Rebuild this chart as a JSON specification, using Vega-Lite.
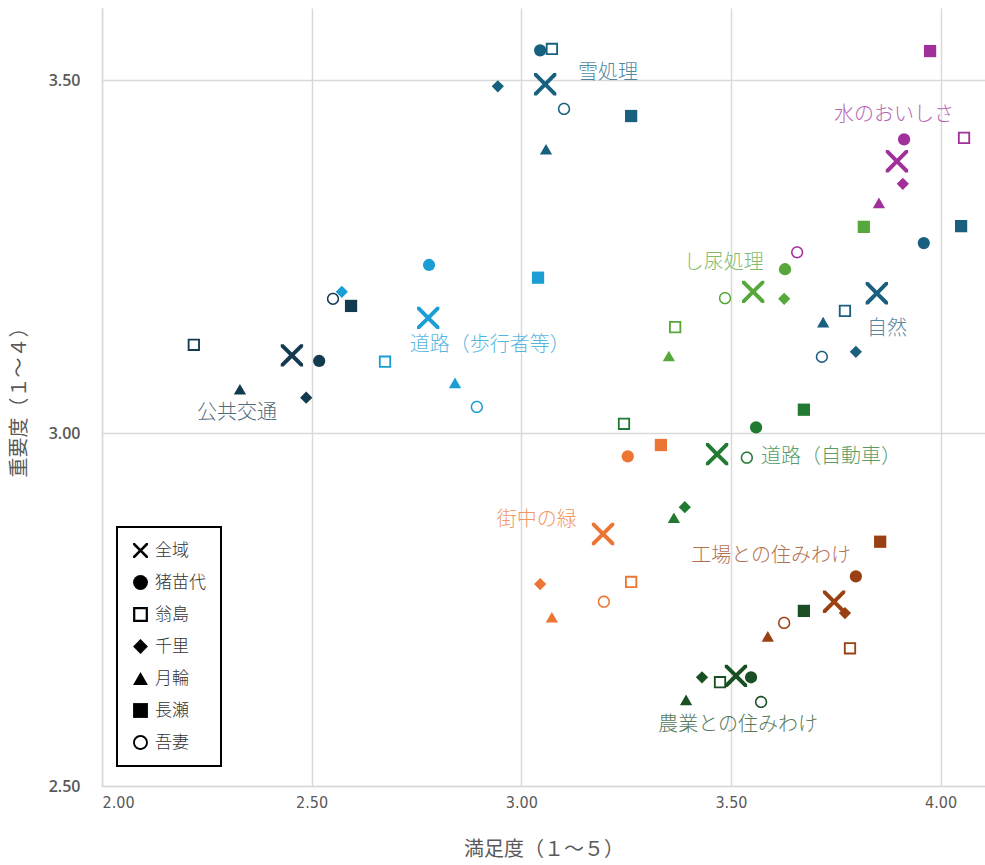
{
  "$schema": "https://vega.github.io/schema/vega-lite/v6.json",
  "width": 883,
  "height": 778,
  "autosize": {"type": "none"},
  "padding": {"left": 102, "top": 8, "right": 0, "bottom": 79},
  "background": "white",
  "config": {
    "view": {"stroke": null},
    "legend": {
      "orient": "none",
      "legendX": 15,
      "legendY": 519,
      "strokeColor": "black",
      "strokeWidth": 2,
      "fillColor": "white",
      "padding": 15,
      "labelFont": "Noto Sans CJK JP",
      "labelFontSize": 17,
      "labelFontWeight": 300,
      "labelColor": "#333333",
      "rowPadding": 14,
      "symbolSize": 220,
      "labelOffset": 6
    }
  },
  "datasets": {
    "pts": [
      {"item": "雪処理", "area": "全域", "x": 3.057, "y": 3.494},
      {"item": "雪処理", "area": "猪苗代", "x": 3.045, "y": 3.542},
      {"item": "雪処理", "area": "翁島", "x": 3.073, "y": 3.544},
      {"item": "雪処理", "area": "千里", "x": 2.944, "y": 3.491},
      {"item": "雪処理", "area": "月輪", "x": 3.059, "y": 3.402},
      {"item": "雪処理", "area": "長瀬", "x": 3.262, "y": 3.449},
      {"item": "雪処理", "area": "吾妻", "x": 3.102, "y": 3.459},
      {"item": "水のおいしさ", "area": "全域", "x": 3.896, "y": 3.385},
      {"item": "水のおいしさ", "area": "猪苗代", "x": 3.913, "y": 3.416},
      {"item": "水のおいしさ", "area": "翁島", "x": 4.056, "y": 3.418},
      {"item": "水のおいしさ", "area": "千里", "x": 3.91, "y": 3.353},
      {"item": "水のおいしさ", "area": "月輪", "x": 3.853, "y": 3.326},
      {"item": "水のおいしさ", "area": "長瀬", "x": 3.975, "y": 3.541},
      {"item": "水のおいしさ", "area": "吾妻", "x": 3.658, "y": 3.256},
      {"item": "し尿処理", "area": "全域", "x": 3.553, "y": 3.2},
      {"item": "し尿処理", "area": "猪苗代", "x": 3.629, "y": 3.232},
      {"item": "し尿処理", "area": "翁島", "x": 3.367, "y": 3.15},
      {"item": "し尿処理", "area": "千里", "x": 3.627, "y": 3.19},
      {"item": "し尿処理", "area": "月輪", "x": 3.352, "y": 3.109},
      {"item": "し尿処理", "area": "長瀬", "x": 3.817, "y": 3.292},
      {"item": "し尿処理", "area": "吾妻", "x": 3.486, "y": 3.191},
      {"item": "自然", "area": "全域", "x": 3.848, "y": 3.198},
      {"item": "自然", "area": "猪苗代", "x": 3.96, "y": 3.269},
      {"item": "自然", "area": "翁島", "x": 3.772, "y": 3.173},
      {"item": "自然", "area": "千里", "x": 3.798, "y": 3.115},
      {"item": "自然", "area": "月輪", "x": 3.72, "y": 3.157},
      {"item": "自然", "area": "長瀬", "x": 4.049, "y": 3.293},
      {"item": "自然", "area": "吾妻", "x": 3.717, "y": 3.108},
      {"item": "道路（歩行者等）", "area": "全域", "x": 2.778, "y": 3.163},
      {"item": "道路（歩行者等）", "area": "猪苗代", "x": 2.78, "y": 3.238},
      {"item": "道路（歩行者等）", "area": "翁島", "x": 2.675, "y": 3.101},
      {"item": "道路（歩行者等）", "area": "千里", "x": 2.572, "y": 3.2},
      {"item": "道路（歩行者等）", "area": "月輪", "x": 2.842, "y": 3.071},
      {"item": "道路（歩行者等）", "area": "長瀬", "x": 3.04, "y": 3.22},
      {"item": "道路（歩行者等）", "area": "吾妻", "x": 2.894, "y": 3.037},
      {"item": "公共交通", "area": "全域", "x": 2.453, "y": 3.11},
      {"item": "公共交通", "area": "猪苗代", "x": 2.518, "y": 3.102},
      {"item": "公共交通", "area": "翁島", "x": 2.219, "y": 3.125},
      {"item": "公共交通", "area": "千里", "x": 2.487, "y": 3.05},
      {"item": "公共交通", "area": "月輪", "x": 2.329, "y": 3.062},
      {"item": "公共交通", "area": "長瀬", "x": 2.594, "y": 3.18},
      {"item": "公共交通", "area": "吾妻", "x": 2.551, "y": 3.19},
      {"item": "道路（自動車）", "area": "全域", "x": 3.467, "y": 2.97},
      {"item": "道路（自動車）", "area": "猪苗代", "x": 3.56, "y": 3.008},
      {"item": "道路（自動車）", "area": "翁島", "x": 3.245, "y": 3.013},
      {"item": "道路（自動車）", "area": "千里", "x": 3.39, "y": 2.895},
      {"item": "道路（自動車）", "area": "月輪", "x": 3.364, "y": 2.88},
      {"item": "道路（自動車）", "area": "長瀬", "x": 3.674, "y": 3.033},
      {"item": "道路（自動車）", "area": "吾妻", "x": 3.538, "y": 2.965},
      {"item": "街中の緑", "area": "全域", "x": 3.195, "y": 2.857},
      {"item": "街中の緑", "area": "猪苗代", "x": 3.254, "y": 2.967},
      {"item": "街中の緑", "area": "翁島", "x": 3.262, "y": 2.789},
      {"item": "街中の緑", "area": "千里", "x": 3.045, "y": 2.786},
      {"item": "街中の緑", "area": "月輪", "x": 3.073, "y": 2.739},
      {"item": "街中の緑", "area": "長瀬", "x": 3.333, "y": 2.983},
      {"item": "街中の緑", "area": "吾妻", "x": 3.197, "y": 2.761},
      {"item": "工場との住みわけ", "area": "全域", "x": 3.746, "y": 2.761},
      {"item": "工場との住みわけ", "area": "猪苗代", "x": 3.798, "y": 2.797},
      {"item": "工場との住みわけ", "area": "翁島", "x": 3.784, "y": 2.695},
      {"item": "工場との住みわけ", "area": "千里", "x": 3.772, "y": 2.745},
      {"item": "工場との住みわけ", "area": "月輪", "x": 3.588, "y": 2.712},
      {"item": "工場との住みわけ", "area": "長瀬", "x": 3.856, "y": 2.846},
      {"item": "工場との住みわけ", "area": "吾妻", "x": 3.627, "y": 2.731},
      {"item": "農業との住みわけ", "area": "全域", "x": 3.512, "y": 2.656},
      {"item": "農業との住みわけ", "area": "猪苗代", "x": 3.548, "y": 2.654},
      {"item": "農業との住みわけ", "area": "翁島", "x": 3.474, "y": 2.647},
      {"item": "農業との住みわけ", "area": "千里", "x": 3.431, "y": 2.654},
      {"item": "農業との住みわけ", "area": "月輪", "x": 3.393, "y": 2.622},
      {"item": "農業との住みわけ", "area": "長瀬", "x": 3.674, "y": 2.748},
      {"item": "農業との住みわけ", "area": "吾妻", "x": 3.572, "y": 2.619}
    ],
    "labels": [
      {"item": "雪処理", "x": 3.207, "y": 3.51},
      {"item": "水のおいしさ", "x": 3.889, "y": 3.45},
      {"item": "し尿処理", "x": 3.483, "y": 3.241},
      {"item": "自然", "x": 3.872, "y": 3.147},
      {"item": "道路（歩行者等）", "x": 2.925, "y": 3.125},
      {"item": "公共交通", "x": 2.322, "y": 3.028},
      {"item": "道路（自動車）", "x": 3.739, "y": 2.966},
      {"item": "街中の緑", "x": 3.037, "y": 2.877},
      {"item": "工場との住みわけ", "x": 3.596, "y": 2.826},
      {"item": "農業との住みわけ", "x": 3.517, "y": 2.586}
    ]
  },
  "encoding": {
    "x": {
      "field": "x", "type": "quantitative",
      "scale": {"domain": [2, 4.106], "nice": false, "zero": false},
      "axis": {
        "title": "満足度（１～５）",
        "values": [2, 2.5, 3, 3.5, 4], "format": ".2f",
        "grid": true, "gridColor": "#d9d9d9", "gridWidth": 1.5,
        "domainColor": "#d9d9d9", "domainWidth": 1.5, "ticks": false,
        "labelPadding": 8, "labelFont": "DejaVu Sans Condensed", "labelFontSize": 16, "labelColor": "#595959",
        "titleFont": "Noto Sans CJK JP", "titleFontSize": 20, "titleFontWeight": "normal", "titleColor": "#595959", "titlePadding": 29
      }
    },
    "y": {
      "field": "y", "type": "quantitative",
      "scale": {"domain": [2.5, 3.602], "nice": false, "zero": false},
      "axis": {
        "title": "重要度（１～４）",
        "values": [2.5, 3, 3.5], "format": ".2f",
        "grid": true, "gridColor": "#d9d9d9", "gridWidth": 1.5,
        "domainColor": "#d9d9d9", "domainWidth": 1.5, "ticks": false,
        "labelPadding": 22, "labelFont": "Open Sans", "labelFontSize": 16, "labelFontWeight": 600, "labelColor": "#595959",
        "titleFont": "Noto Sans CJK JP", "titleFontSize": 20, "titleFontWeight": "normal", "titleColor": "#595959", "titlePadding": 19
      }
    },
    "color": {
      "field": "item", "type": "nominal", "legend": null,
      "scale": {
        "domain": ["雪処理", "水のおいしさ", "し尿処理", "自然", "道路（歩行者等）", "公共交通", "道路（自動車）", "街中の緑", "工場との住みわけ", "農業との住みわけ"],
        "range": ["#17607e", "#a1309b", "#56a83a", "#1b5f80", "#1b9ed6", "#143a50", "#217a32", "#ec7533", "#9a4113", "#1a4f24"]
      }
    }
  },
  "layer": [
    {
      "data": {"name": "pts"},
      "transform": [{"filter": "datum.area !== '全域'"}],
      "mark": {"type": "point", "filled": true, "opacity": 1, "strokeWidth": 0, "size": 150},
      "encoding": {
        "shape": {
          "field": "area", "type": "nominal",
          "scale": {
            "domain": ["全域", "猪苗代", "翁島", "千里", "月輪", "長瀬", "吾妻"],
            "range": [
              "M0,-0.25L0.75,-1L1,-1L1,-0.75L0.25,0L1,0.75L1,1L0.75,1L0,0.25L-0.75,1L-1,1L-1,0.75L-0.25,0L-1,-0.75L-1,-1L-0.75,-1Z",
              "circle",
              "M-1,-1H1V1H-1Z M-0.7,-0.7V0.7H0.7V-0.7Z",
              "diamond",
              "triangle-up",
              "square",
              "M1,0A1,1,0,1,1,-1,0A1,1,0,1,1,1,0Z M0.75,0A0.75,0.75,0,1,0,-0.75,0A0.75,0.75,0,1,0,0.75,0Z"
            ]
          },
          "legend": {
            "title": null,
            "symbolFillColor": "black",
            "symbolStrokeColor": "black",
            "symbolStrokeWidth": 0,
            "symbolOpacity": 1,
            "encode": {"symbols": {"update": {"fill": {"value": "black"}, "stroke": {"value": "black"}, "strokeWidth": {"value": 0}, "opacity": {"value": 1}, "size": {"value": 220}}}}
          }
        }
      }
    },
    {
      "data": {"name": "pts"},
      "transform": [{"filter": "datum.area === '全域'"}],
      "mark": {"type": "point", "filled": true, "opacity": 1, "strokeWidth": 0, "size": 500},
      "encoding": {
        "shape": {"field": "area", "type": "nominal"}
      }
    },
    {
      "data": {"name": "labels"},
      "mark": {"type": "text", "font": "Noto Sans CJK JP", "fontSize": 20, "fontWeight": 300, "opacity": 0.75, "align": "center", "baseline": "middle"},
      "encoding": {
        "text": {"field": "item"}
      }
    }
  ]
}
